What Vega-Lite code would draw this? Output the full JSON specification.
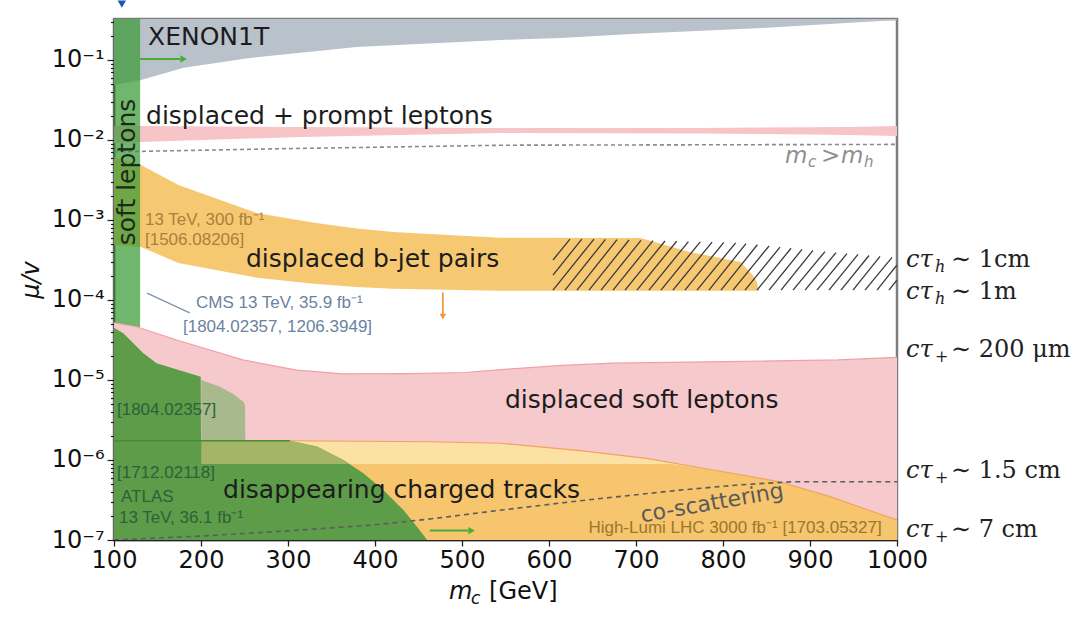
{
  "$schema": "https://vega.github.io/schema/vega-lite/v6.json",
  "width": 783,
  "height": 521,
  "autosize": {"type": "none"},
  "padding": {"left": 114, "top": 19, "right": 190, "bottom": 78},
  "background": "white",
  "config": {"view": {"stroke": "#7d7d7d", "strokeWidth": 2.5}, "font": "DejaVu Sans"},
  "datasets": {
    "xenon": [
      {"x": 100, "lo": 0.0487, "hi": 0.325},
      {"x": 131, "lo": 0.0562, "hi": 0.325},
      {"x": 180, "lo": 0.08, "hi": 0.325},
      {"x": 256, "lo": 0.106, "hi": 0.325},
      {"x": 379, "lo": 0.145, "hi": 0.325},
      {"x": 544, "lo": 0.178, "hi": 0.325},
      {"x": 613, "lo": 0.188, "hi": 0.325},
      {"x": 700, "lo": 0.213, "hi": 0.325},
      {"x": 845, "lo": 0.251, "hi": 0.325},
      {"x": 1000, "lo": 0.316, "hi": 0.325}
    ],
    "prompt": [
      {"x": 100, "lo": 0.00917, "hi": 0.01496},
      {"x": 131, "lo": 0.00944, "hi": 0.01496},
      {"x": 314, "lo": 0.0109, "hi": 0.01454},
      {"x": 544, "lo": 0.01224, "hi": 0.01413},
      {"x": 774, "lo": 0.01206, "hi": 0.01413},
      {"x": 946, "lo": 0.01155, "hi": 0.01454},
      {"x": 1000, "lo": 0.01122, "hi": 0.01496}
    ],
    "mhline": [
      {"x": 100, "y": 0.0071},
      {"x": 300, "y": 0.0078},
      {"x": 550, "y": 0.0086},
      {"x": 1000, "y": 0.0088}
    ],
    "bjet": [
      {"x": 100, "lo": 0.00049, "hi": 0.0061},
      {"x": 131, "lo": 0.00046, "hi": 0.00487},
      {"x": 174, "lo": 0.00029, "hi": 0.00274},
      {"x": 264, "lo": 0.00019, "hi": 0.00122},
      {"x": 330, "lo": 0.00016, "hi": 0.00092},
      {"x": 379, "lo": 0.000145, "hi": 0.00078},
      {"x": 421, "lo": 0.000138, "hi": 0.000708},
      {"x": 544, "lo": 0.00013, "hi": 0.0006},
      {"x": 705, "lo": 0.00013, "hi": 0.000596},
      {"x": 762, "lo": 0.00013, "hi": 0.000398},
      {"x": 820, "lo": 0.00013, "hi": 0.000299},
      {"x": 834, "lo": 0.00013, "hi": 0.000205},
      {"x": 839, "lo": 0.00013, "hi": 0.000168},
      {"x": 841, "lo": 0.00013, "hi": 0.00013}
    ],
    "hatch": [
      {"x": 604.6, "y": 0.000205, "x2": 637.7, "y2": 0.000577},
      {"x": 604.6, "y": 0.000316, "x2": 624.1, "y2": 0.000577},
      {"x": 604.6, "y": 0.000133, "x2": 651.7, "y2": 0.000577},
      {"x": 618.4, "y": 0.000133, "x2": 664.9, "y2": 0.000572},
      {"x": 632.2, "y": 0.000133, "x2": 678.2, "y2": 0.000568},
      {"x": 646.0, "y": 0.000133, "x2": 692.0, "y2": 0.000562},
      {"x": 659.8, "y": 0.000133, "x2": 705.7, "y2": 0.000556},
      {"x": 673.6, "y": 0.000133, "x2": 719.5, "y2": 0.000551},
      {"x": 687.4, "y": 0.000133, "x2": 733.3, "y2": 0.000546},
      {"x": 701.1, "y": 0.000133, "x2": 746.7, "y2": 0.000542},
      {"x": 714.9, "y": 0.000133, "x2": 760.2, "y2": 0.000537},
      {"x": 728.7, "y": 0.000133, "x2": 773.8, "y2": 0.000532},
      {"x": 742.5, "y": 0.000133, "x2": 787.4, "y2": 0.000528},
      {"x": 756.3, "y": 0.000133, "x2": 800.9, "y2": 0.000524},
      {"x": 770.1, "y": 0.000133, "x2": 814.5, "y2": 0.000518},
      {"x": 783.9, "y": 0.000133, "x2": 826.4, "y2": 0.000507},
      {"x": 797.7, "y": 0.000133, "x2": 839.5, "y2": 0.00049},
      {"x": 811.5, "y": 0.000133, "x2": 852.9, "y2": 0.000473},
      {"x": 825.3, "y": 0.000133, "x2": 865.5, "y2": 0.000457},
      {"x": 839.1, "y": 0.000133, "x2": 878.2, "y2": 0.000443},
      {"x": 852.9, "y": 0.000133, "x2": 890.8, "y2": 0.000428},
      {"x": 866.7, "y": 0.000133, "x2": 903.4, "y2": 0.000416},
      {"x": 880.5, "y": 0.000133, "x2": 917.2, "y2": 0.000403},
      {"x": 894.3, "y": 0.000133, "x2": 929.9, "y2": 0.000391},
      {"x": 908.0, "y": 0.000133, "x2": 942.5, "y2": 0.00038},
      {"x": 921.8, "y": 0.000133, "x2": 955.2, "y2": 0.000371},
      {"x": 935.6, "y": 0.000133, "x2": 967.8, "y2": 0.00036},
      {"x": 949.4, "y": 0.000133, "x2": 980.5, "y2": 0.00035},
      {"x": 963.2, "y": 0.000133, "x2": 994.3, "y2": 0.00034},
      {"x": 977.0, "y": 0.000133, "x2": 1000, "y2": 0.000274},
      {"x": 990.8, "y": 0.000133, "x2": 1000, "y2": 0.000178}
    ],
    "band": [{"x": 100, "x2": 130, "lo": 0.000046, "hi": 0.325}],
    "softpink": [
      {"x": 100, "hi": 0.000052},
      {"x": 103, "hi": 0.0000512},
      {"x": 126, "hi": 0.0000463},
      {"x": 172, "hi": 0.0000316},
      {"x": 248, "hi": 0.0000178},
      {"x": 310, "hi": 0.0000133},
      {"x": 363, "hi": 0.0000119},
      {"x": 440, "hi": 0.000012},
      {"x": 504, "hi": 0.0000124},
      {"x": 545, "hi": 0.0000135},
      {"x": 615, "hi": 0.0000152},
      {"x": 674, "hi": 0.0000162},
      {"x": 803, "hi": 0.000017},
      {"x": 932, "hi": 0.0000178},
      {"x": 1000, "hi": 0.0000192}
    ],
    "lightorange": [
      {"x": 200, "hi": 0.00000174},
      {"x": 302, "hi": 0.00000174},
      {"x": 463, "hi": 0.00000169},
      {"x": 544, "hi": 0.00000162},
      {"x": 636, "hi": 0.00000131},
      {"x": 712, "hi": 0.00000105},
      {"x": 789, "hi": 0.00000075},
      {"x": 865, "hi": 0.000000535},
      {"x": 923, "hi": 0.000000348},
      {"x": 961, "hi": 0.000000249},
      {"x": 1000, "hi": 0.000000178}
    ],
    "darkorange": [
      {"x": 200, "hi": 0.00000089},
      {"x": 740, "hi": 0.00000089},
      {"x": 789, "hi": 0.00000075},
      {"x": 865, "hi": 0.000000535},
      {"x": 923, "hi": 0.000000348},
      {"x": 961, "hi": 0.000000249},
      {"x": 1000, "hi": 0.000000178}
    ],
    "greenmain": [
      {"x": 100, "hi": 0.000045},
      {"x": 110.7, "hi": 0.0000384},
      {"x": 133.7, "hi": 0.0000216},
      {"x": 149, "hi": 0.0000162},
      {"x": 199.7, "hi": 0.000011},
      {"x": 200, "hi": 0.00000174},
      {"x": 302, "hi": 0.00000174},
      {"x": 333, "hi": 0.00000147},
      {"x": 363.6, "hi": 0.000001},
      {"x": 386.6, "hi": 0.000000682},
      {"x": 409.6, "hi": 0.000000422},
      {"x": 432.6, "hi": 0.000000237},
      {"x": 448, "hi": 0.000000147},
      {"x": 460, "hi": 0.0000001}
    ],
    "cmslight": [
      {"x": 200.3, "lo": 0.00000174, "hi": 0.00001},
      {"x": 221.8, "lo": 0.00000174, "hi": 0.00000825},
      {"x": 237, "lo": 0.00000174, "hi": 0.00000668},
      {"x": 248.7, "lo": 0.00000174, "hi": 0.00000536},
      {"x": 250.6, "lo": 0.00000174, "hi": 0.00000487},
      {"x": 250.9, "lo": 0.00000174, "hi": 0.00000174}
    ],
    "olive": [
      {"x": 200.3, "lo": 0.00000089, "hi": 0.00000174},
      {"x": 302, "lo": 0.00000089, "hi": 0.00000174},
      {"x": 333, "lo": 0.00000089, "hi": 0.00000147},
      {"x": 363.6, "lo": 0.00000089, "hi": 0.000001},
      {"x": 370, "lo": 0.00000089, "hi": 0.00000089}
    ],
    "gline": [
      {"x": 100, "y": 0.00000174},
      {"x": 302, "y": 0.00000174}
    ],
    "coscat": [
      {"x": 100, "y": 0.0000001},
      {"x": 200, "y": 0.000000112},
      {"x": 300, "y": 0.00000013},
      {"x": 400, "y": 0.000000155},
      {"x": 463, "y": 0.000000183},
      {"x": 550, "y": 0.00000024},
      {"x": 636, "y": 0.00000031},
      {"x": 750, "y": 0.00000042},
      {"x": 820, "y": 0.00000049},
      {"x": 880, "y": 0.000000535},
      {"x": 1000, "y": 0.000000535}
    ],
    "garrow": [
      {"x": 130, "x2": 176, "y": 0.103, "hx": 180},
      {"x": 463, "x2": 507, "y": 0.000000131, "hx": 511}
    ],
    "oarrow": [{"x": 478, "y": 0.000124, "y2": 0.000066, "hy": 0.000062}],
    "pointer": [{"x": 138, "y": 0.000122, "x2": 187, "y2": 0.000069}],
    "blue": [{"x": 109, "y": 0.5}],
    "bigtext": [
      {"x": 139.1, "y": 0.191, "t": "XENON1T"},
      {"x": 136.8, "y": 0.02, "t": "displaced + prompt leptons"},
      {"x": 251.7, "y": 0.000326, "t": "displaced b-jet pairs"},
      {"x": 549.4, "y": 0.00000562, "t": "displaced soft leptons"},
      {"x": 225.3, "y": 0.000000422, "t": "disappearing charged tracks"}
    ],
    "vtext": [{"x": 114.9, "y": 0.00398, "t": "soft leptons"}],
    "browntext": [
      {"x": 135.6, "y": 0.001, "t": "13 TeV, 300 fb⁻¹"},
      {"x": 135.6, "y": 0.000562, "t": "[1506.08206]"}
    ],
    "hltext": [{"x": 982.4, "y": 0.000000141, "t": "High-Lumi LHC 3000 fb⁻¹ [1703.05327]"}],
    "slatetext": [
      {"x": 194.3, "y": 0.0000917, "t": "CMS 13 TeV, 35.9 fb⁻¹"},
      {"x": 179.3, "y": 0.000046, "t": "[1804.02357, 1206.3949]"}
    ],
    "greentext": [
      {"x": 103.4, "y": 0.00000422, "t": "[1804.02357]"},
      {"x": 103.4, "y": 0.000000688, "t": "[1712.02118]"},
      {"x": 108, "y": 0.000000345, "t": "ATLAS"},
      {"x": 105.7, "y": 0.000000188, "t": "13 TeV, 36.1 fb⁻¹"}
    ],
    "cotext": [{"x": 787.4, "y": 0.00000029, "t": "co-scattering"}],
    "mh": [{"x": 871.3, "y": 0.00631}],
    "xtitle": [{"x": 485.1, "y": 0.0000000224}],
    "ctau": [
      {"x": 1010.3, "y": 0.000316, "sub": "h", "rest": "∼ 1cm"},
      {"x": 1010.3, "y": 0.000126, "sub": "h", "rest": "∼ 1m"},
      {"x": 1010.3, "y": 0.0000237, "sub": "+", "rest": "∼ 200 μm"},
      {"x": 1010.3, "y": 0.000000729, "sub": "+", "rest": "∼ 1.5 cm"},
      {"x": 1010.3, "y": 0.000000133, "sub": "+", "rest": "∼ 7 cm"}
    ]
  },
  "layer": [
    {
      "data": {"name": "xenon"},
      "mark": {"type": "area", "color": "#b9c1cb", "clip": true},
      "encoding": {
        "x": {
          "field": "x", "type": "quantitative", "title": null,
          "scale": {"domain": [100, 1000], "nice": false, "zero": false},
          "axis": {
            "values": [100, 200, 300, 400, 500, 600, 700, 800, 900, 1000],
            "format": "d",
            "title": null, "grid": false, "labelFlush": false, "labelOverlap": false,
            "labelFont": "DejaVu Sans", "labelFontSize": 24, "labelColor": "#111",
            "labelPadding": 2, "tickSize": 6, "tickColor": "#222", "tickWidth": 1.3,
            "domainColor": "#222", "domainWidth": 1.5
          }
        },
        "y": {
          "field": "hi", "type": "quantitative", "title": "μ/v",
          "scale": {"type": "log", "domain": [0.0000001, 0.325], "nice": false},
          "axis": {
            "values": [0.0000001, 0.0000002, 0.0000003, 0.0000004, 0.0000005, 0.0000006, 0.0000007, 0.0000008, 0.0000009,
                       0.000001, 0.000002, 0.000003, 0.000004, 0.000005, 0.000006, 0.000007, 0.000008, 0.000009,
                       0.00001, 0.00002, 0.00003, 0.00004, 0.00005, 0.00006, 0.00007, 0.00008, 0.00009,
                       0.0001, 0.0002, 0.0003, 0.0004, 0.0005, 0.0006, 0.0007, 0.0008, 0.0009,
                       0.001, 0.002, 0.003, 0.004, 0.005, 0.006, 0.007, 0.008, 0.009,
                       0.01, 0.02, 0.03, 0.04, 0.05, 0.06, 0.07, 0.08, 0.09,
                       0.1, 0.2, 0.3],
            "labelExpr": "abs(log(datum.value)/LN10 - round(log(datum.value)/LN10)) < 0.01 ? '10⁻' + ['⁰','¹','²','³','⁴','⁵','⁶','⁷'][-round(log(datum.value)/LN10)] : ''",
            "tickSize": {"condition": {"test": "abs(log(datum.value)/LN10 - round(log(datum.value)/LN10)) < 0.01", "value": 7}, "value": 3.5},
            "title": "μ/v", "titleFont": "DejaVu Sans", "titleFontSize": 24, "titleFontStyle": "italic",
            "titleFontWeight": "normal", "titleColor": "#111", "titlePadding": 8,
            "grid": false, "labelFlush": false, "labelOverlap": false,
            "labelFont": "DejaVu Sans", "labelFontSize": 24, "labelColor": "#111", "labelPadding": 3,
            "tickColor": "#222", "tickWidth": 1.2, "domainColor": "#222", "domainWidth": 1.5
          }
        },
        "y2": {"field": "lo"}
      }
    },
    {
      "data": {"name": "prompt"},
      "mark": {"type": "area", "color": "#f7c4c8", "clip": true},
      "encoding": {
        "x": {"field": "x", "type": "quantitative", "title": null},
        "y": {"field": "hi", "type": "quantitative", "title": "μ/v"},
        "y2": {"field": "lo"}
      }
    },
    {
      "data": {"name": "mhline"},
      "mark": {"type": "line", "color": "#8a8a8a", "strokeDash": [4, 3], "strokeWidth": 1.6, "clip": true},
      "encoding": {
        "x": {"field": "x", "type": "quantitative", "title": null},
        "y": {"field": "y", "type": "quantitative", "title": "μ/v"}
      }
    },
    {
      "data": {"name": "bjet"},
      "mark": {"type": "area", "color": "#f7c872", "clip": true},
      "encoding": {
        "x": {"field": "x", "type": "quantitative", "title": null},
        "y": {"field": "hi", "type": "quantitative", "title": "μ/v"},
        "y2": {"field": "lo"}
      }
    },
    {
      "data": {"name": "hatch"},
      "mark": {"type": "rule", "color": "#3a3a3a", "strokeWidth": 1.3, "clip": true},
      "encoding": {
        "x": {"field": "x", "type": "quantitative", "title": null},
        "y": {"field": "y", "type": "quantitative", "title": "μ/v"},
        "x2": {"field": "x2"},
        "y2": {"field": "y2"}
      }
    },
    {
      "data": {"name": "band"},
      "mark": {"type": "rect", "color": "#3a9a35", "opacity": 0.72, "clip": true},
      "encoding": {
        "x": {"field": "x", "type": "quantitative", "title": null},
        "x2": {"field": "x2"},
        "y": {"field": "hi", "type": "quantitative", "title": "μ/v"},
        "y2": {"field": "lo"}
      }
    },
    {
      "data": {"name": "softpink"},
      "mark": {"type": "area", "color": "#f6c9cc", "clip": true},
      "encoding": {
        "x": {"field": "x", "type": "quantitative", "title": null},
        "y": {"field": "hi", "type": "quantitative", "title": "μ/v"},
        "y2": {"datum": 0.0000001}
      }
    },
    {
      "data": {"name": "softpink"},
      "mark": {"type": "line", "color": "#f0a0a6", "strokeWidth": 1.2, "clip": true},
      "encoding": {
        "x": {"field": "x", "type": "quantitative", "title": null},
        "y": {"field": "hi", "type": "quantitative", "title": "μ/v"}
      }
    },
    {
      "data": {"name": "lightorange"},
      "mark": {"type": "area", "color": "#fbe1a4", "clip": true},
      "encoding": {
        "x": {"field": "x", "type": "quantitative", "title": null},
        "y": {"field": "hi", "type": "quantitative", "title": "μ/v"},
        "y2": {"datum": 0.0000001}
      }
    },
    {
      "data": {"name": "darkorange"},
      "mark": {"type": "area", "color": "#f6c56d", "clip": true},
      "encoding": {
        "x": {"field": "x", "type": "quantitative", "title": null},
        "y": {"field": "hi", "type": "quantitative", "title": "μ/v"},
        "y2": {"datum": 0.0000001}
      }
    },
    {
      "data": {"name": "lightorange"},
      "transform": [{"filter": "datum.x >= 300"}],
      "mark": {"type": "line", "color": "#f2a25e", "strokeWidth": 1.2, "clip": true},
      "encoding": {
        "x": {"field": "x", "type": "quantitative", "title": null},
        "y": {"field": "hi", "type": "quantitative", "title": "μ/v"}
      }
    },
    {
      "data": {"name": "greenmain"},
      "mark": {"type": "area", "color": "#5d9c48", "clip": true},
      "encoding": {
        "x": {"field": "x", "type": "quantitative", "title": null},
        "y": {"field": "hi", "type": "quantitative", "title": "μ/v"},
        "y2": {"datum": 0.0000001}
      }
    },
    {
      "data": {"name": "cmslight"},
      "mark": {"type": "area", "color": "#a8b98d", "clip": true},
      "encoding": {
        "x": {"field": "x", "type": "quantitative", "title": null},
        "y": {"field": "hi", "type": "quantitative", "title": "μ/v"},
        "y2": {"field": "lo"}
      }
    },
    {
      "data": {"name": "olive"},
      "mark": {"type": "area", "color": "#a4b567", "clip": true},
      "encoding": {
        "x": {"field": "x", "type": "quantitative", "title": null},
        "y": {"field": "hi", "type": "quantitative", "title": "μ/v"},
        "y2": {"field": "lo"}
      }
    },
    {
      "data": {"name": "gline"},
      "mark": {"type": "line", "color": "#4a8a3a", "strokeWidth": 1.6, "clip": true},
      "encoding": {
        "x": {"field": "x", "type": "quantitative", "title": null},
        "y": {"field": "y", "type": "quantitative", "title": "μ/v"}
      }
    },
    {
      "data": {"name": "coscat"},
      "mark": {"type": "line", "color": "#5d5d5d", "strokeDash": [5, 4], "strokeWidth": 1.6, "clip": true},
      "encoding": {
        "x": {"field": "x", "type": "quantitative", "title": null},
        "y": {"field": "y", "type": "quantitative", "title": "μ/v"}
      }
    },
    {
      "data": {"name": "garrow"},
      "mark": {"type": "rule", "color": "#47ad3a", "strokeWidth": 2},
      "encoding": {
        "x": {"field": "x", "type": "quantitative", "title": null},
        "x2": {"field": "x2"},
        "y": {"field": "y", "type": "quantitative", "title": "μ/v"}
      }
    },
    {
      "data": {"name": "garrow"},
      "mark": {"type": "point", "shape": "triangle-right", "filled": true, "color": "#47ad3a", "size": 55, "opacity": 1},
      "encoding": {
        "x": {"field": "hx", "type": "quantitative", "title": null},
        "y": {"field": "y", "type": "quantitative", "title": "μ/v"}
      }
    },
    {
      "data": {"name": "oarrow"},
      "mark": {"type": "rule", "color": "#ef9a3c", "strokeWidth": 1.8},
      "encoding": {
        "x": {"field": "x", "type": "quantitative", "title": null},
        "y": {"field": "y", "type": "quantitative", "title": "μ/v"},
        "y2": {"field": "y2"}
      }
    },
    {
      "data": {"name": "oarrow"},
      "mark": {"type": "point", "shape": "triangle-down", "filled": true, "color": "#ef9a3c", "size": 45, "opacity": 1},
      "encoding": {
        "x": {"field": "x", "type": "quantitative", "title": null},
        "y": {"field": "hy", "type": "quantitative", "title": "μ/v"}
      }
    },
    {
      "data": {"name": "pointer"},
      "mark": {"type": "rule", "color": "#7f93ab", "strokeWidth": 1.3},
      "encoding": {
        "x": {"field": "x", "type": "quantitative", "title": null},
        "y": {"field": "y", "type": "quantitative", "title": "μ/v"},
        "x2": {"field": "x2"},
        "y2": {"field": "y2"}
      }
    },
    {
      "data": {"name": "blue"},
      "mark": {"type": "point", "shape": "triangle-down", "filled": true, "color": "#1f5aa8", "size": 70, "opacity": 1},
      "encoding": {
        "x": {"field": "x", "type": "quantitative", "title": null},
        "y": {"field": "y", "type": "quantitative", "title": "μ/v"}
      }
    },
    {
      "data": {"name": "bigtext"},
      "mark": {"type": "text", "font": "DejaVu Sans", "fontSize": 25, "color": "#1c1c1c", "align": "left", "baseline": "middle"},
      "encoding": {
        "x": {"field": "x", "type": "quantitative", "title": null},
        "y": {"field": "y", "type": "quantitative", "title": "μ/v"},
        "text": {"field": "t"}
      }
    },
    {
      "data": {"name": "vtext"},
      "mark": {"type": "text", "font": "DejaVu Sans", "fontSize": 25, "color": "#1c2a1c", "align": "center", "baseline": "middle", "angle": 270},
      "encoding": {
        "x": {"field": "x", "type": "quantitative", "title": null},
        "y": {"field": "y", "type": "quantitative", "title": "μ/v"},
        "text": {"field": "t"}
      }
    },
    {
      "data": {"name": "browntext"},
      "mark": {"type": "text", "font": "Liberation Sans", "fontSize": 17, "color": "#a9803c", "align": "left", "baseline": "middle"},
      "encoding": {
        "x": {"field": "x", "type": "quantitative", "title": null},
        "y": {"field": "y", "type": "quantitative", "title": "μ/v"},
        "text": {"field": "t"}
      }
    },
    {
      "data": {"name": "hltext"},
      "mark": {"type": "text", "font": "Liberation Sans", "fontSize": 17, "color": "#98782e", "align": "right", "baseline": "middle"},
      "encoding": {
        "x": {"field": "x", "type": "quantitative", "title": null},
        "y": {"field": "y", "type": "quantitative", "title": "μ/v"},
        "text": {"field": "t"}
      }
    },
    {
      "data": {"name": "slatetext"},
      "mark": {"type": "text", "font": "Liberation Sans", "fontSize": 17, "color": "#6b83a1", "align": "left", "baseline": "middle"},
      "encoding": {
        "x": {"field": "x", "type": "quantitative", "title": null},
        "y": {"field": "y", "type": "quantitative", "title": "μ/v"},
        "text": {"field": "t"}
      }
    },
    {
      "data": {"name": "greentext"},
      "mark": {"type": "text", "font": "Liberation Sans", "fontSize": 17, "color": "#2d6139", "align": "left", "baseline": "middle"},
      "encoding": {
        "x": {"field": "x", "type": "quantitative", "title": null},
        "y": {"field": "y", "type": "quantitative", "title": "μ/v"},
        "text": {"field": "t"}
      }
    },
    {
      "data": {"name": "cotext"},
      "mark": {"type": "text", "font": "DejaVu Sans", "fontSize": 22, "color": "#5a5a5a", "align": "center", "baseline": "middle", "angle": -10},
      "encoding": {
        "x": {"field": "x", "type": "quantitative", "title": null},
        "y": {"field": "y", "type": "quantitative", "title": "μ/v"},
        "text": {"field": "t"}
      }
    },
    {
      "data": {"name": "mh"},
      "mark": {"type": "text", "font": "DejaVu Sans", "fontSize": 23, "fontStyle": "italic", "color": "#8f8f8f", "align": "left", "baseline": "middle"},
      "encoding": {
        "x": {"field": "x", "type": "quantitative", "title": null},
        "y": {"field": "y", "type": "quantitative", "title": "μ/v"},
        "text": {"value": "m"}
      }
    },
    {
      "data": {"name": "mh"},
      "mark": {"type": "text", "font": "DejaVu Sans", "fontSize": 15, "fontStyle": "italic", "color": "#8f8f8f", "align": "left", "baseline": "middle", "dx": 23, "dy": 6},
      "encoding": {
        "x": {"field": "x", "type": "quantitative", "title": null},
        "y": {"field": "y", "type": "quantitative", "title": "μ/v"},
        "text": {"value": "c"}
      }
    },
    {
      "data": {"name": "mh"},
      "mark": {"type": "text", "font": "DejaVu Sans", "fontSize": 23, "color": "#8f8f8f", "align": "left", "baseline": "middle", "dx": 36},
      "encoding": {
        "x": {"field": "x", "type": "quantitative", "title": null},
        "y": {"field": "y", "type": "quantitative", "title": "μ/v"},
        "text": {"value": ">"}
      }
    },
    {
      "data": {"name": "mh"},
      "mark": {"type": "text", "font": "DejaVu Sans", "fontSize": 23, "fontStyle": "italic", "color": "#8f8f8f", "align": "left", "baseline": "middle", "dx": 56},
      "encoding": {
        "x": {"field": "x", "type": "quantitative", "title": null},
        "y": {"field": "y", "type": "quantitative", "title": "μ/v"},
        "text": {"value": "m"}
      }
    },
    {
      "data": {"name": "mh"},
      "mark": {"type": "text", "font": "DejaVu Sans", "fontSize": 15, "fontStyle": "italic", "color": "#8f8f8f", "align": "left", "baseline": "middle", "dx": 79, "dy": 6},
      "encoding": {
        "x": {"field": "x", "type": "quantitative", "title": null},
        "y": {"field": "y", "type": "quantitative", "title": "μ/v"},
        "text": {"value": "h"}
      }
    },
    {
      "data": {"name": "xtitle"},
      "mark": {"type": "text", "font": "DejaVu Sans", "fontSize": 24, "fontStyle": "italic", "color": "#111", "align": "left", "baseline": "middle"},
      "encoding": {
        "x": {"field": "x", "type": "quantitative", "title": null},
        "y": {"field": "y", "type": "quantitative", "title": "μ/v"},
        "text": {"value": "m"}
      }
    },
    {
      "data": {"name": "xtitle"},
      "mark": {"type": "text", "font": "DejaVu Sans", "fontSize": 17, "fontStyle": "italic", "color": "#111", "align": "left", "baseline": "middle", "dx": 22, "dy": 7},
      "encoding": {
        "x": {"field": "x", "type": "quantitative", "title": null},
        "y": {"field": "y", "type": "quantitative", "title": "μ/v"},
        "text": {"value": "c"}
      }
    },
    {
      "data": {"name": "xtitle"},
      "mark": {"type": "text", "font": "DejaVu Sans", "fontSize": 24, "color": "#111", "align": "left", "baseline": "middle", "dx": 40},
      "encoding": {
        "x": {"field": "x", "type": "quantitative", "title": null},
        "y": {"field": "y", "type": "quantitative", "title": "μ/v"},
        "text": {"value": "[GeV]"}
      }
    },
    {
      "data": {"name": "ctau"},
      "mark": {"type": "text", "font": "DejaVu Serif", "fontSize": 24, "fontStyle": "italic", "color": "#222", "align": "left", "baseline": "middle"},
      "encoding": {
        "x": {"field": "x", "type": "quantitative", "title": null},
        "y": {"field": "y", "type": "quantitative", "title": "μ/v"},
        "text": {"value": "cτ"}
      }
    },
    {
      "data": {"name": "ctau"},
      "mark": {"type": "text", "font": "DejaVu Serif", "fontSize": 16, "fontStyle": "italic", "color": "#222", "align": "left", "baseline": "middle", "dx": 29, "dy": 7},
      "encoding": {
        "x": {"field": "x", "type": "quantitative", "title": null},
        "y": {"field": "y", "type": "quantitative", "title": "μ/v"},
        "text": {"field": "sub"}
      }
    },
    {
      "data": {"name": "ctau"},
      "mark": {"type": "text", "font": "DejaVu Serif", "fontSize": 24, "color": "#222", "align": "left", "baseline": "middle", "dx": 45},
      "encoding": {
        "x": {"field": "x", "type": "quantitative", "title": null},
        "y": {"field": "y", "type": "quantitative", "title": "μ/v"},
        "text": {"field": "rest"}
      }
    }
  ]
}
